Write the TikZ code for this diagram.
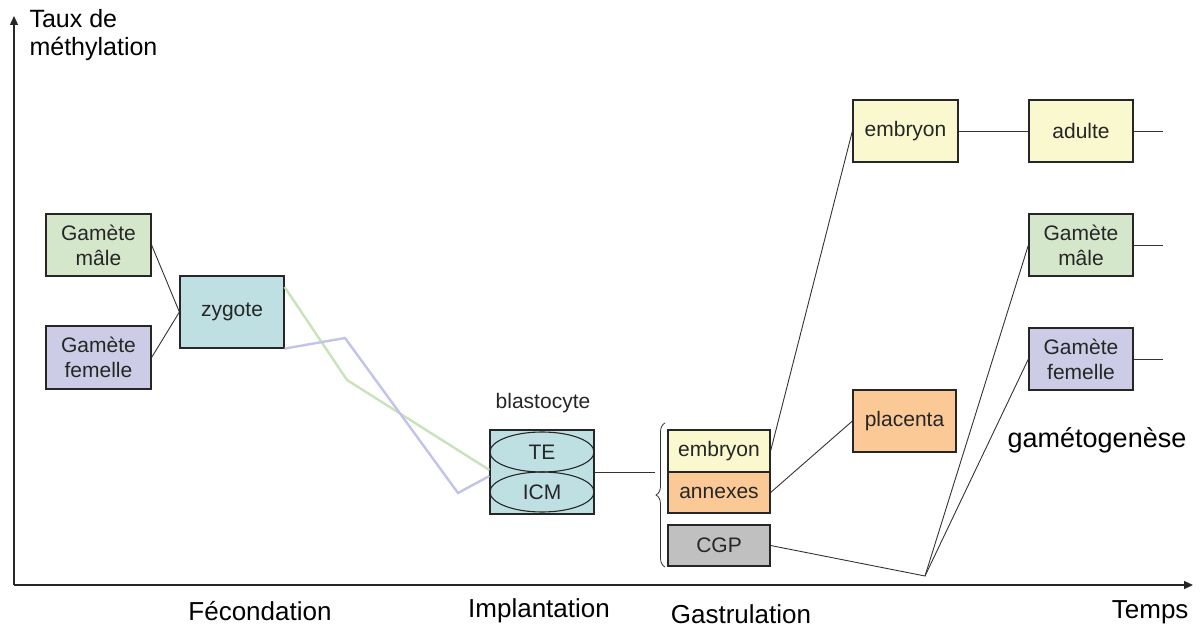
\documentclass[tikz,border=0pt]{standalone}
\usepackage{fontspec}
\setmainfont{Liberation Sans}
\usetikzlibrary{shapes.geometric,arrows.meta,decorations.pathreplacing}
\definecolor{cgreen}{HTML}{D5E7CB}
\definecolor{cviolet}{HTML}{CCCCE6}
\definecolor{cteal}{HTML}{BFE0E3}
\definecolor{cyellow}{HTML}{FAF8CF}
\definecolor{corange}{HTML}{FBC996}
\definecolor{cgrey}{HTML}{C0C0C0}
\definecolor{lgreen}{HTML}{C9E2BA}
\definecolor{lviolet}{HTML}{C2C2EA}
\begin{document}
\begin{tikzpicture}[x=1pt,y=-1pt,
  box/.style={draw=black!85,line width=1.2pt,rectangle,inner sep=0pt,align=center,
    font=\fontsize{21}{25}\selectfont,text=black!85},
  conn/.style={draw=black!80,line width=0.9pt},
  axis/.style={draw=black!85,line width=1.4pt,-{Triangle[length=9pt,width=8pt]}},
  lbl/.style={font=\fontsize{26}{29}\selectfont,text=black}]
\useasboundingbox (0,0) rectangle (1200,631);
% axes
\coordinate (O) at (14,585);
\coordinate (Ytop) at (14,16);
\coordinate (Xend) at (1193,585);
\draw[axis] (O) -- (Ytop);
\draw[axis] (O) -- (Xend);
\node[lbl,anchor=north west,align=left,font=\fontsize{25}{28}\selectfont] (ylab) at (26,6) {Taux de\\méthylation};
\node[lbl,anchor=east] (temps) at (1192,612) {Temps};
\node[lbl] (fec) at (260,611) {Fécondation};
\node[lbl] (impl) at (539,611) {Implantation};
\node[lbl] (gast) at (741,614) {Gastrulation};
\node[lbl,font=\fontsize{27}{30}\selectfont] (gameto) at (1097,440) {gamétogenèse};
% boxes
\node[box,fill=cgreen,minimum width=105pt,minimum height=62pt] (gm) at (98.5,245) {Gamète\\mâle};
\node[box,fill=cviolet,minimum width=105pt,minimum height=63pt] (gf) at (98.5,357.5) {Gamète\\femelle};
\node[box,fill=cteal,minimum width=104pt,minimum height=72pt] (zyg) at (232,312) {zygote};
\node[box,fill=cteal,minimum width=104pt,minimum height=84pt] (blast) at (542,472) {};
\node[draw=black!85,line width=1.1pt,ellipse,inner sep=0pt,minimum width=104pt,minimum height=40pt,
  font=\fontsize{21}{25}\selectfont,text=black!85] (te) at (542,452) {TE};
\node[draw=black!85,line width=1.1pt,ellipse,inner sep=0pt,minimum width=104pt,minimum height=40pt,
  font=\fontsize{21}{25}\selectfont,text=black!85] (icm) at (542,492) {ICM};
\node[font=\fontsize{21}{25}\selectfont,text=black!85] (blab) at (543,403) {blastocyte};
\node[box,fill=cyellow,minimum width=102pt,minimum height=42pt] (emb) at (719,451) {embryon};
\node[box,fill=corange,minimum width=102pt,minimum height=41pt] (ann) at (719,492.5) {annexes};
\node[box,fill=cgrey,minimum width=102pt,minimum height=41pt] (cgp) at (719,545.5) {CGP};
\node[box,fill=cyellow,minimum width=105pt,minimum height=62pt] (embT) at (905.5,131) {embryon};
\node[box,fill=cyellow,minimum width=104pt,minimum height=62pt] (adu) at (1081,131) {adulte};
\node[box,fill=cgreen,minimum width=104pt,minimum height=62pt] (gmR) at (1081,245) {Gamète\\mâle};
\node[box,fill=cviolet,minimum width=104pt,minimum height=62pt] (gfR) at (1081,359) {Gamète\\femelle};
\node[box,fill=corange,minimum width=103pt,minimum height=62pt] (plac) at (904.5,421) {placenta};
% brace
\coordinate (bb) at (665,567);
\coordinate (bt) at (665,423);
\draw[draw=black!80,line width=0.8pt,decorate,decoration={brace,amplitude=9pt}] (bb) -- (bt);
\coordinate (btip) at (655,472);
% connectors
\draw[conn] (gm.east) -- (zyg.west);
\draw[conn] (gf.east) -- (zyg.west);
\coordinate (g1) at (347,380);
\coordinate (p1) at (345,338);
\coordinate (p2) at (458,493);
\draw[lgreen,line width=2.4pt] ([yshift=25pt]zyg.east) -- (g1) -- ([yshift=2pt]blast.west);
\draw[lviolet,line width=2.4pt] (zyg.south east) -- (p1) -- (p2) -- ([yshift=-4pt]blast.west);
\draw[conn] (blast.east) -- (btip);
\draw[conn] (emb.east) -- (embT.west);
\draw[conn] (ann.east) -- (plac.west);
\coordinate (v) at (925,576);
\draw[conn] (cgp.east) -- (v) -- (gmR.west);
\draw[conn] (v) -- (gfR.west);
\draw[conn] (embT.east) -- (adu.west);
\coordinate (e1) at (1163,131);
\coordinate (e2) at (1163,245);
\coordinate (e3) at (1163,359);
\draw[conn] (adu.east) -- (e1);
\draw[conn] (gmR.east) -- (e2);
\draw[conn] (gfR.east) -- (e3);
\end{tikzpicture}
\end{document}
